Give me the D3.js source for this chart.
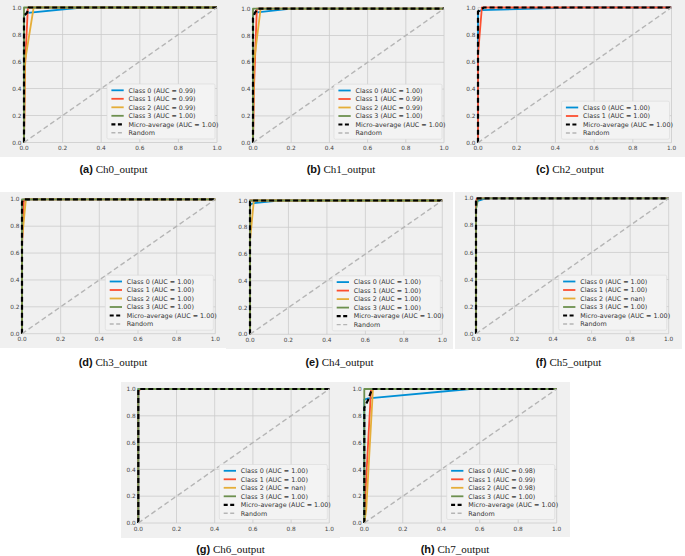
<!DOCTYPE html>
<html>
<head>
<meta charset="utf-8">
<script src="https://cdn.jsdelivr.net/npm/d3@7"></script>
<style>
  body { margin: 0; background: #fff; }
  svg { display: block; }
</style>
</head>
<body>
<div id="chart"></div>
<script>
// ---- data ----
const tickValues = [0, 0.2, 0.4, 0.6, 0.8, 1.0];
const classColors = ["#008fd5", "#fc4f30", "#e5ae38", "#6d904f"];
const captionTags = ["(a)", "(b)", "(c)", "(d)", "(e)", "(f)", "(g)", "(h)"];
const captionNames = ["Ch0_output", "Ch1_output", "Ch2_output", "Ch3_output",
                      "Ch4_output", "Ch5_output", "Ch6_output", "Ch7_output"];

// AUC per class (last entry = micro-average)
const aucCh0 = ["0.99", "0.99", "0.99", "1.00", "1.00"];
const aucCh1 = ["1.00", "0.99", "0.99", "1.00", "1.00"];
const aucCh2 = ["1.00", "1.00", "1.00"];
const aucCh3 = ["1.00", "1.00", "1.00", "1.00", "1.00"];
const aucCh4 = ["1.00", "1.00", "1.00", "1.00", "1.00"];
const aucCh5 = ["1.00", "1.00", "nan", "1.00", "1.00"];
const aucCh6 = ["1.00", "1.00", "nan", "1.00", "1.00"];
const aucCh7 = ["0.98", "0.99", "0.98", "1.00", "1.00"];

// ROC points [fpr, tpr] per class, null = no curve (AUC nan)
const rocCh0 = [
  [[0,0],[0,0.94],[0.02,0.96],[0.3,1],[1,1]],
  [[0,0],[0.005,0.55],[0.02,1],[1,1]],
  [[0,0],[0.005,0.6],[0.05,1],[1,1]],
  [[0,0],[0,1],[1,1]]
];
const microCh0 = [[0,0],[0,0.94],[0.015,0.96],[0.025,1],[1,1]];

const rocCh1 = [
  [[0,0],[0,0.95],[0.01,0.97],[0.2,1],[1,1]],
  [[0,0],[0.005,0.4],[0.02,1],[1,1]],
  [[0,0],[0.005,0.6],[0.04,1],[1,1]],
  [[0,0],[0,1],[1,1]]
];
const microCh1 = [[0,0],[0,0.93],[0.01,0.97],[0.025,1],[1,1]];

const rocCh2 = [
  [[0,0],[0,0.97],[0.02,0.98],[0.5,1],[1,1]],
  [[0,0],[0,0.65],[0.02,1],[1,1]]
];
const microCh2 = [[0,0],[0,0.97],[0.02,0.99],[0.03,1],[1,1]];

const rocCh3 = [
  [[0,0],[0,0.98],[0.01,0.99],[0.05,1],[1,1]],
  [[0,0],[0,0.65],[0.01,1],[1,1]],
  [[0,0],[0,0.7],[0.02,1],[1,1]],
  [[0,0],[0,1],[1,1]]
];
const microCh3 = [[0,0],[0,0.98],[0.01,1],[1,1]];

const rocCh4 = [
  [[0,0],[0,0.97],[0.02,0.98],[0.15,1],[1,1]],
  [[0,0],[0,1],[1,1]],
  [[0,0],[0,0.7],[0.02,1],[1,1]],
  [[0,0],[0,1],[1,1]]
];
const microCh4 = [[0,0],[0,0.99],[0.01,1],[1,1]];

const rocCh5 = [
  [[0,0],[0,0.98],[0.01,0.98],[0.05,1],[1,1]],
  [[0,0],[0,0.97],[0.005,1],[1,1]],
  null,
  [[0,0],[0,0.92],[0.005,0.95],[0.01,1],[1,1]]
];
const microCh5 = [[0,0],[0,1],[1,1]];

const rocCh6 = [
  [[0,0],[0,1],[1,1]],
  [[0,0],[0,0.98],[0.01,1],[1,1]],
  null,
  [[0,0],[0,1],[1,1]]
];
const microCh6 = [[0,0],[0,1],[1,1]];

const rocCh7 = [
  [[0,0],[0,0.92],[0.02,0.93],[0.55,1],[1,1]],
  [[0,0],[0.005,0.2],[0.035,1],[1,1]],
  [[0,0],[0.01,0.1],[0.045,1],[1,1]],
  [[0,0],[0,1],[1,1]]
];
const microCh7 = [[0,0],[0,0.86],[0.02,0.92],[0.04,1],[1,1]];

const randomLine = [[0,0],[1,1]];

const rocs = [rocCh0, rocCh1, rocCh2, rocCh3, rocCh4, rocCh5, rocCh6, rocCh7];
const micros = [microCh0, microCh1, microCh2, microCh3, microCh4, microCh5, microCh6, microCh7];
const aucs = [aucCh0, aucCh1, aucCh2, aucCh3, aucCh4, aucCh5, aucCh6, aucCh7];

// ---- layout of the 8 panels (background box, pixel range of data 0..1) ----
const frames = [
  {bg: [0, 0, 227, 157],     x: [24, 217],      y: [142.5, 7.5],   cap: 173},
  {bg: [227, 0, 455, 157],   x: [253, 444],     y: [142.7, 8.7],   cap: 173},
  {bg: [455, 0, 685, 157],   x: [478, 671.5],   y: [142.7, 7.5],   cap: 173},
  {bg: [0, 192, 226, 348],   x: [22, 215.3],    y: [333.7, 199.3], cap: 366},
  {bg: [226, 192, 453, 349], x: [250, 442.3],   y: [334.3, 200.5], cap: 366},
  {bg: [455, 192, 682, 349], x: [476, 668.7],   y: [333.7, 198.3], cap: 366},
  {bg: [121, 382, 340, 538], x: [138.3, 329.3], y: [523, 389],     cap: 553},
  {bg: [340, 382, 570, 537], x: [364.3, 556.7], y: [523, 389],     cap: 553}
];

const W = 685, H = 556;
const svg = d3.select("#chart").append("svg")
  .attr("width", W)
  .attr("height", H);

const FONT = "DejaVu Sans";
const TICK_SIZE = 5.8;
const LEG_SIZE = 6.4;

frames.forEach(function(f, i) {
  var x = d3.scaleLinear().domain([0, 1]).range(f.x);
  var y = d3.scaleLinear().domain([0, 1]).range(f.y);
  // matplotlib default 5% margins
  var ax = d3.scaleLinear().domain([-0.05, 1.05]).range(f.x);
  var ay = d3.scaleLinear().domain([-0.05, 1.05]).range(f.y);

  var g = svg.append("g").attr("class", "panel");

  g.append("rect")
    .attr("x", f.bg[0]).attr("y", f.bg[1])
    .attr("width", f.bg[2] - f.bg[0]).attr("height", f.bg[3] - f.bg[1])
    .attr("fill", "#f0f0f0");

  // grid
  g.selectAll("line.vgrid").data(tickValues).enter().append("line")
    .attr("x1", d => x(d)).attr("x2", d => x(d))
    .attr("y1", ay(-0.05)).attr("y2", ay(1.05))
    .attr("stroke", "#cbcbcb").attr("stroke-width", 0.8);
  g.selectAll("line.hgrid").data(tickValues).enter().append("line")
    .attr("y1", d => y(d)).attr("y2", d => y(d))
    .attr("x1", ax(-0.05)).attr("x2", ax(1.05))
    .attr("stroke", "#cbcbcb").attr("stroke-width", 0.8);

  // tick labels
  g.selectAll("text.xt").data(tickValues).enter().append("text")
    .attr("x", d => x(d))
    .attr("y", ay(-0.05) + 7.5)
    .attr("text-anchor", "middle")
    .attr("font-family", FONT).attr("font-size", TICK_SIZE)
    .attr("fill", "#444")
    .text(d => d.toFixed(1));
  g.selectAll("text.yt").data(tickValues).enter().append("text")
    .attr("x", ax(-0.05) - 2.5)
    .attr("y", d => y(d) + 2.1)
    .attr("text-anchor", "end")
    .attr("font-family", FONT).attr("font-size", TICK_SIZE)
    .attr("fill", "#444")
    .text(d => d.toFixed(1));

  var line = d3.line().x(d => x(d[0])).y(d => y(d[1]));

  // class curves
  rocs[i].forEach(function(pts, c) {
    if (!pts) return;
    g.append("path")
      .attr("d", line(pts))
      .attr("fill", "none")
      .attr("stroke", classColors[c])
      .attr("stroke-width", 1.8)
      .attr("stroke-linejoin", "round");
  });

  // micro-average
  g.append("path")
    .attr("d", line(micros[i]))
    .attr("fill", "none")
    .attr("stroke", "#000")
    .attr("stroke-width", 2.2)
    .attr("stroke-dasharray", "5,3");

  // random
  g.append("path")
    .attr("d", line(randomLine))
    .attr("fill", "none")
    .attr("stroke", "#b5b5b5")
    .attr("stroke-width", 1.4)
    .attr("stroke-dasharray", "5,3");

  // legend
  var entries = [];
  rocs[i].forEach(function(pts, c) {
    entries.push({label: "Class " + c + " (AUC = " + aucs[i][c] + ")",
                  color: classColors[c], width: 1.8, dash: null});
  });
  entries.push({label: "Micro-average (AUC = " + aucs[i][aucs[i].length - 1] + ")",
                color: "#000", width: 2.2, dash: "4,2.5"});
  entries.push({label: "Random", color: "#b5b5b5", width: 1.4, dash: "4,2.5"});

  var rowH = 8.5;
  var lw = 108, lh = entries.length * rowH + 4;
  var lx = ax(1.05) - 2 - lw;
  var ly = ay(-0.05) - 3.5 - lh;
  var leg = g.append("g").attr("transform", "translate(" + lx + "," + ly + ")");
  leg.append("rect")
    .attr("width", lw).attr("height", lh)
    .attr("rx", 1.5)
    .attr("fill", "#f3f3f3")
    .attr("stroke", "#d8d8d8").attr("stroke-width", 0.6);
  var rows = leg.selectAll("g.row").data(entries).enter().append("g")
    .attr("transform", (d, k) => "translate(0," + (6.3 + k * rowH) + ")");
  rows.append("line")
    .attr("x1", 4.4).attr("x2", 16.7)
    .attr("stroke", d => d.color)
    .attr("stroke-width", d => d.width)
    .attr("stroke-dasharray", d => d.dash);
  rows.append("text")
    .attr("x", 21.5).attr("y", 2.3)
    .attr("font-family", FONT).attr("font-size", LEG_SIZE)
    .attr("fill", "#333")
    .text(d => d.label);

  // caption
  var cap = g.append("text")
    .attr("x", (f.bg[0] + f.bg[2]) / 2)
    .attr("y", f.cap)
    .attr("text-anchor", "middle")
    .attr("font-size", 11)
    .attr("fill", "#111");
  cap.append("tspan")
    .attr("font-family", "Liberation Sans")
    .attr("font-weight", "bold")
    .text(captionTags[i]);
  cap.append("tspan")
    .attr("font-family", "Liberation Serif")
    .text(" " + captionNames[i]);
});
</script>
</body>
</html>
